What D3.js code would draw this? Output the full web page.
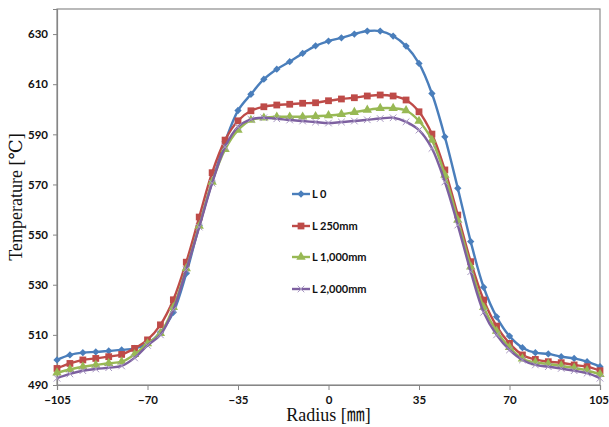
<!DOCTYPE html>
<html>
<head>
<meta charset="utf-8">
<script src="https://cdn.jsdelivr.net/npm/d3@7"></script>
<style>
  body { margin: 0; background: #fff; }
  svg { display: block; }
</style>
</head>
<body>
<div id="chart"></div>
<script>
// radius positions [mm]
const radius = [-105, -100, -95, -90, -85, -80, -75, -70, -65, -60, -55, -50, -45, -40, -35, -30, -25, -20, -15, -10, -5,
	0, 5, 10, 15, 20, 25, 30, 35, 40, 45, 50, 55, 60, 65, 70, 75, 80, 85, 90, 95, 100, 105];

// temperature [C] per series
const tempL0 = [500, 502, 502.9, 503.2, 503.6, 504, 504.6, 506.5, 511, 519, 534.5, 553.6, 571, 587, 599.5, 606, 612, 616, 619, 622.3, 625.3,
	627.2, 628.5, 630, 631.2, 631.2, 629.2, 625.2, 618.3, 606.3, 589, 568.5, 547.2, 529, 517.2, 509.5, 504.9, 502.9, 502.4, 501.3, 500.6, 499.3, 497.3];
const tempL250 = [496.6, 498.6, 500, 500.6, 501.3, 502.2, 504.6, 508, 514, 524, 539, 557, 574.7, 587.7, 595.4, 599.4, 601, 601.7, 602, 602.4, 602.6,
	603.4, 604.1, 604.6, 605.3, 605.7, 605.3, 603.7, 599, 590.1, 575.8, 557.8, 539.2, 523.9, 513.5, 506.6, 502, 500.2, 499.3, 498.9, 498, 497.3, 495.7];
const tempL1000 = [494.9, 496.2, 497.3, 498, 498.7, 499.3, 502.2, 506.5, 510.6, 521, 536.5, 553.4, 571, 584, 591.7, 595.7, 596.6, 597, 597, 597, 597.2,
	597.5, 598, 598.8, 599.7, 600.4, 600.4, 599.5, 595.3, 587.7, 573.8, 555.8, 537.2, 521, 511.5, 505, 500.5, 499, 498.4, 497.7, 496.8, 495.8, 494.3];
const tempL2000 = [492.7, 494.4, 495.7, 496.4, 496.9, 497.6, 500.8, 505.8, 510, 520, 536, 553, 570.5, 585, 593, 596, 596.6, 596.2, 595.7, 595.3, 594.9,
	594.5, 594.9, 595.3, 595.8, 596.3, 596.6, 595, 591.7, 584.4, 571, 553.8, 535.2, 519, 510, 504, 500, 498, 497.3, 496.6, 495.7, 494.7, 492.7];

const seriesNames = ["L 0", "L 250mm", "L 1,000mm", "L 2,000mm"];
const xTicks = [-105, -70, -35, 0, 35, 70, 105];
const yTicks = [490, 510, 530, 550, 570, 590, 610, 630];

const width = 609;
const height = 427;
const margin = {top: 9, right: 9, bottom: 42, left: 57};

// styles per series
const styles = [
	{color: "#4A7EBB", symbol: d3.symbolDiamond2, size: 34, fill: "#4A7EBB", stroke: "none"},
	{color: "#BE4B48", symbol: d3.symbolSquare, size: 46, fill: "#BE4B48", stroke: "none"},
	{color: "#98B954", symbol: d3.symbolTriangle, size: 38, fill: "#98B954", stroke: "none"},
	{color: "#7D60A0", symbol: d3.symbolX, size: 30, fill: "none", stroke: "#A897C2"}
];

const allSeries = [tempL0, tempL250, tempL1000, tempL2000].map((vals, i) => ({
	name: seriesNames[i],
	style: styles[i],
	points: radius.map((r, j) => ({r: r, t: vals[j]}))
}));

const x = d3.scaleLinear().domain([-105, 105]).range([margin.left, width - margin.right]);
const y = d3.scaleLinear().domain([490, 640]).range([height - margin.bottom, margin.top]);

const svg = d3.select("#chart").append("svg")
	.attr("width", width)
	.attr("height", height);

svg.append("rect").attr("width", width).attr("height", height).attr("fill", "#fff");

// plot area border
svg.append("rect")
	.attr("x", margin.left).attr("y", margin.top)
	.attr("width", width - margin.left - margin.right)
	.attr("height", height - margin.top - margin.bottom)
	.attr("fill", "none")
	.attr("stroke", "#8c8c8c")
	.attr("stroke-width", 1.2);

// axes
const yAxis = svg.append("g")
	.attr("transform", `translate(${margin.left},0)`)
	.call(d3.axisLeft(y).tickValues(yTicks).tickSize(4).tickPadding(5));
const xAxis = svg.append("g")
	.attr("transform", `translate(0,${height - margin.bottom})`)
	.call(d3.axisBottom(x).tickValues(xTicks).tickSize(5).tickPadding(6));

[xAxis, yAxis].forEach(ax => {
	ax.select(".domain").attr("stroke", "#868686").attr("stroke-width", 1.2);
	ax.selectAll(".tick line").attr("stroke", "#868686");
	ax.selectAll("text")
		.attr("fill", "#111")
		.style("font-family", "Lato, 'Open Sans', sans-serif")
		.style("font-weight", "bold")
		.style("font-size", "11.5px");
});
// last x label sits right at the edge, nudge it in a bit
xAxis.selectAll(".tick text").filter(d => d === 105).attr("dx", -1.5);

// axis titles
svg.append("text")
	.attr("x", x(0))
	.attr("y", 421)
	.attr("text-anchor", "middle")
	.style("font-family", "'Liberation Serif', 'DejaVu Serif', 'Noto Sans CJK KR', serif")
	.style("font-size", "18px")
	.attr("fill", "#111")
	.text("Radius [㎜]");

svg.append("text")
	.attr("transform", `translate(22,${y(565)}) rotate(-90)`)
	.attr("text-anchor", "middle")
	.style("font-family", "'Liberation Serif', 'DejaVu Serif', 'Noto Sans CJK KR', serif")
	.style("font-size", "18px")
	.attr("fill", "#111")
	.text("Temperature [℃]");

// lines
const line = d3.line()
	.x(d => x(d.r))
	.y(d => y(d.t))
	.curve(d3.curveCatmullRom.alpha(0.5));

const seriesG = svg.append("g").selectAll("g")
	.data(allSeries)
	.join("g");

seriesG.append("path")
	.attr("d", s => line(s.points))
	.attr("fill", "none")
	.attr("stroke", s => s.style.color)
	.attr("stroke-width", 2.4);

seriesG.each(function(s) {
	const sym = d3.symbol().type(s.style.symbol).size(s.style.size);
	d3.select(this).selectAll("path.marker")
		.data(s.points)
		.join("path")
		.attr("class", "marker")
		.attr("transform", d => `translate(${x(d.r)},${y(d.t)})`)
		.attr("d", sym)
		.attr("fill", s.style.fill)
		.attr("stroke", s.style.stroke)
		.attr("stroke-width", 1);
});

// legend
const legendX = 292;
const legendY = [194, 226, 257, 289];
const legend = svg.append("g").selectAll("g")
	.data(allSeries)
	.join("g")
	.attr("transform", (s, i) => `translate(${legendX},${legendY[i]})`);

legend.append("line")
	.attr("x1", 0).attr("x2", 18)
	.attr("stroke", s => s.style.color)
	.attr("stroke-width", 2.4);

legend.append("path")
	.attr("transform", "translate(9,0)")
	.attr("d", s => d3.symbol().type(s.style.symbol).size(s.style.size)())
	.attr("fill", s => s.style.fill)
	.attr("stroke", s => s.style.stroke);

legend.append("text")
	.attr("x", 20)
	.attr("dy", "0.36em")
	.style("font-family", "Lato, 'Open Sans', sans-serif")
	.style("font-weight", "bold")
	.style("font-size", "11px")
	.attr("fill", "#111")
	.text(s => s.name);
</script>
</body>
</html>
